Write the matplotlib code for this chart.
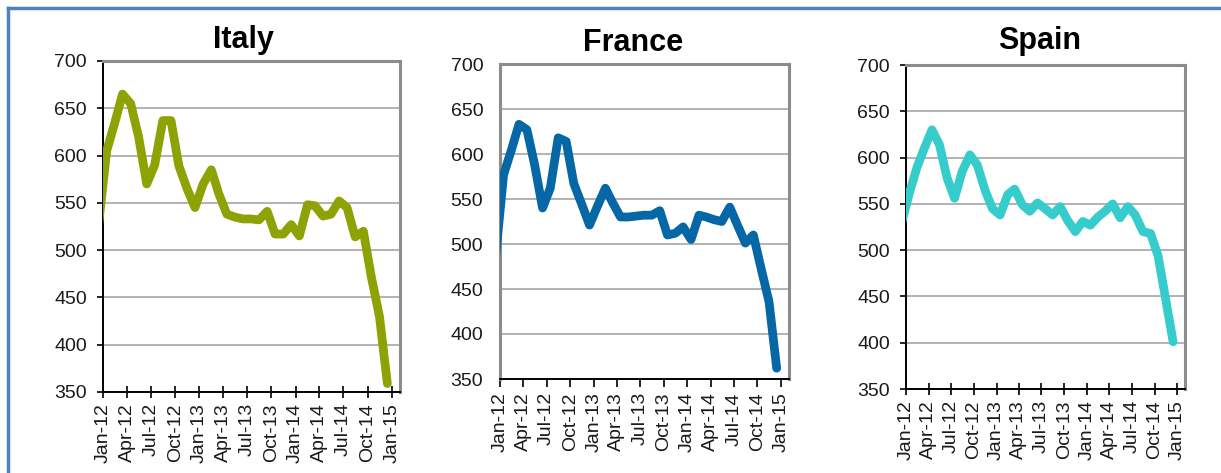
#!/usr/bin/python

import numpy as np
import pandas as pd
import matplotlib
matplotlib.use('Agg')
from matplotlib import pyplot as plt
from matplotlib.lines import Line2D

# Monthly values, mid-month, Dec-11 .. Dec-14
months = pd.date_range('2011-12-01', '2014-12-01', freq='MS') + pd.Timedelta(days=14)

italy = [526, 605, 635, 665, 655, 620, 570, 590, 637, 637, 589, 565, 545,
         570, 585, 560, 538, 535, 533, 533, 532, 541, 517, 517, 527, 515,
         548, 547, 536, 538, 552, 545, 514, 520, 472, 430, 359]

france = [486, 577, 605, 633, 627, 588, 540, 562, 618, 614, 567, 544, 521,
          542, 562, 546, 530, 530, 531, 532, 532, 537, 510, 512, 519, 505,
          532, 530, 527, 525, 541, 521, 501, 510, 473, 436, 362]

spain = [530, 562, 590, 610, 630, 614, 578, 556, 585, 603, 592, 565, 545,
         538, 560, 566, 549, 542, 551, 545, 538, 547, 532, 520, 531, 527,
         536, 542, 550, 535, 547, 538, 520, 518, 494, 447, 401]

titles = ['Italy', 'France', 'Spain']
colors = ['#8da204', '#0567a6', '#36cccc']
yticks = [350, 400, 450, 500, 550, 600, 650, 700]
xticks = pd.date_range('2012-01-01', '2015-01-01', freq='3MS')
xlabels = [d.strftime('%b-%y') for d in xticks]

W, H = 1221, 473


def frac(box):
    # box in pixels: left, top, right, bottom
    l, t, r, b = box
    return [l / W, 1 - b / H, (r - l) / W, (b - t) / H]


def draw_panel(fig, box, title, tpos, vals, color, left_gray=False, xdir='inout'):
    ax = fig.add_axes(frac(box))
    ax.plot(months, vals, color=color, lw=6.3, solid_joinstyle='round',
            solid_capstyle='round', zorder=3)

    ax.set_ylim(350, 700)
    ax.set_xlim(pd.Timestamp('2012-01-01'), pd.Timestamp('2015-02-01'))
    ax.set_yticks(yticks)
    ax.set_yticklabels([str(v) for v in yticks])
    ax.set_xticks(xticks)
    ax.set_xticklabels(xlabels, rotation=90)

    ax.grid(axis='y', color='#a6a6a6', lw=1.2, zorder=1)
    ax.set_axisbelow(True)

    for s in ['top', 'right']:
        ax.spines[s].set_color('#8c8c8c')
        ax.spines[s].set_linewidth(2.2)
    ax.spines['bottom'].set_color('black')
    ax.spines['bottom'].set_linewidth(1.4)
    if left_gray:
        ax.spines['left'].set_color('#8c8c8c')
        ax.spines['left'].set_linewidth(2.2)
        ax.tick_params(axis='y', length=0, pad=12)
    else:
        ax.spines['left'].set_color('black')
        ax.spines['left'].set_linewidth(1.4)
        ax.tick_params(axis='y', direction='out', length=4.5, width=1.2, pad=7)

    if xdir == 'inout':
        ax.tick_params(axis='x', direction='inout', length=8, width=1.2, pad=4)
    else:
        ax.tick_params(axis='x', direction='out', length=5.5, width=1.2, pad=4)

    ax.tick_params(labelsize=14, labelcolor='#1a1a1a')

    fig.text(tpos[0] / W, 1 - tpos[1] / H, title, ha='center', va='center',
             fontsize=22, fontweight='bold')
    return ax


if __name__ == "__main__":
    plt.rcParams['font.family'] = ['Liberation Sans', 'DejaVu Sans']

    fig = plt.figure(figsize=(W / 100, H / 100), dpi=100)
    fig.patch.set_facecolor('white')

    draw_panel(fig, (103, 61, 400, 392), titles[0], (243, 40), italy, colors[0])
    draw_panel(fig, (500, 64, 789, 379), titles[1], (633, 43), france, colors[1],
               left_gray=True, xdir='out')
    draw_panel(fig, (906, 65, 1185, 389), titles[2], (1040, 41), spain, colors[2])

    # blue outer frame (left and top edges only visible)
    blue = '#4f81bd'
    fig.add_artist(Line2D([8 / W, 8 / W], [0, 1 - 8 / H], color=blue, lw=2.5,
                          transform=fig.transFigure))
    fig.add_artist(Line2D([8 / W, 1], [1 - 8 / H, 1 - 8 / H], color=blue, lw=2.5,
                          transform=fig.transFigure))

    fig.savefig('out.png', dpi=100)
